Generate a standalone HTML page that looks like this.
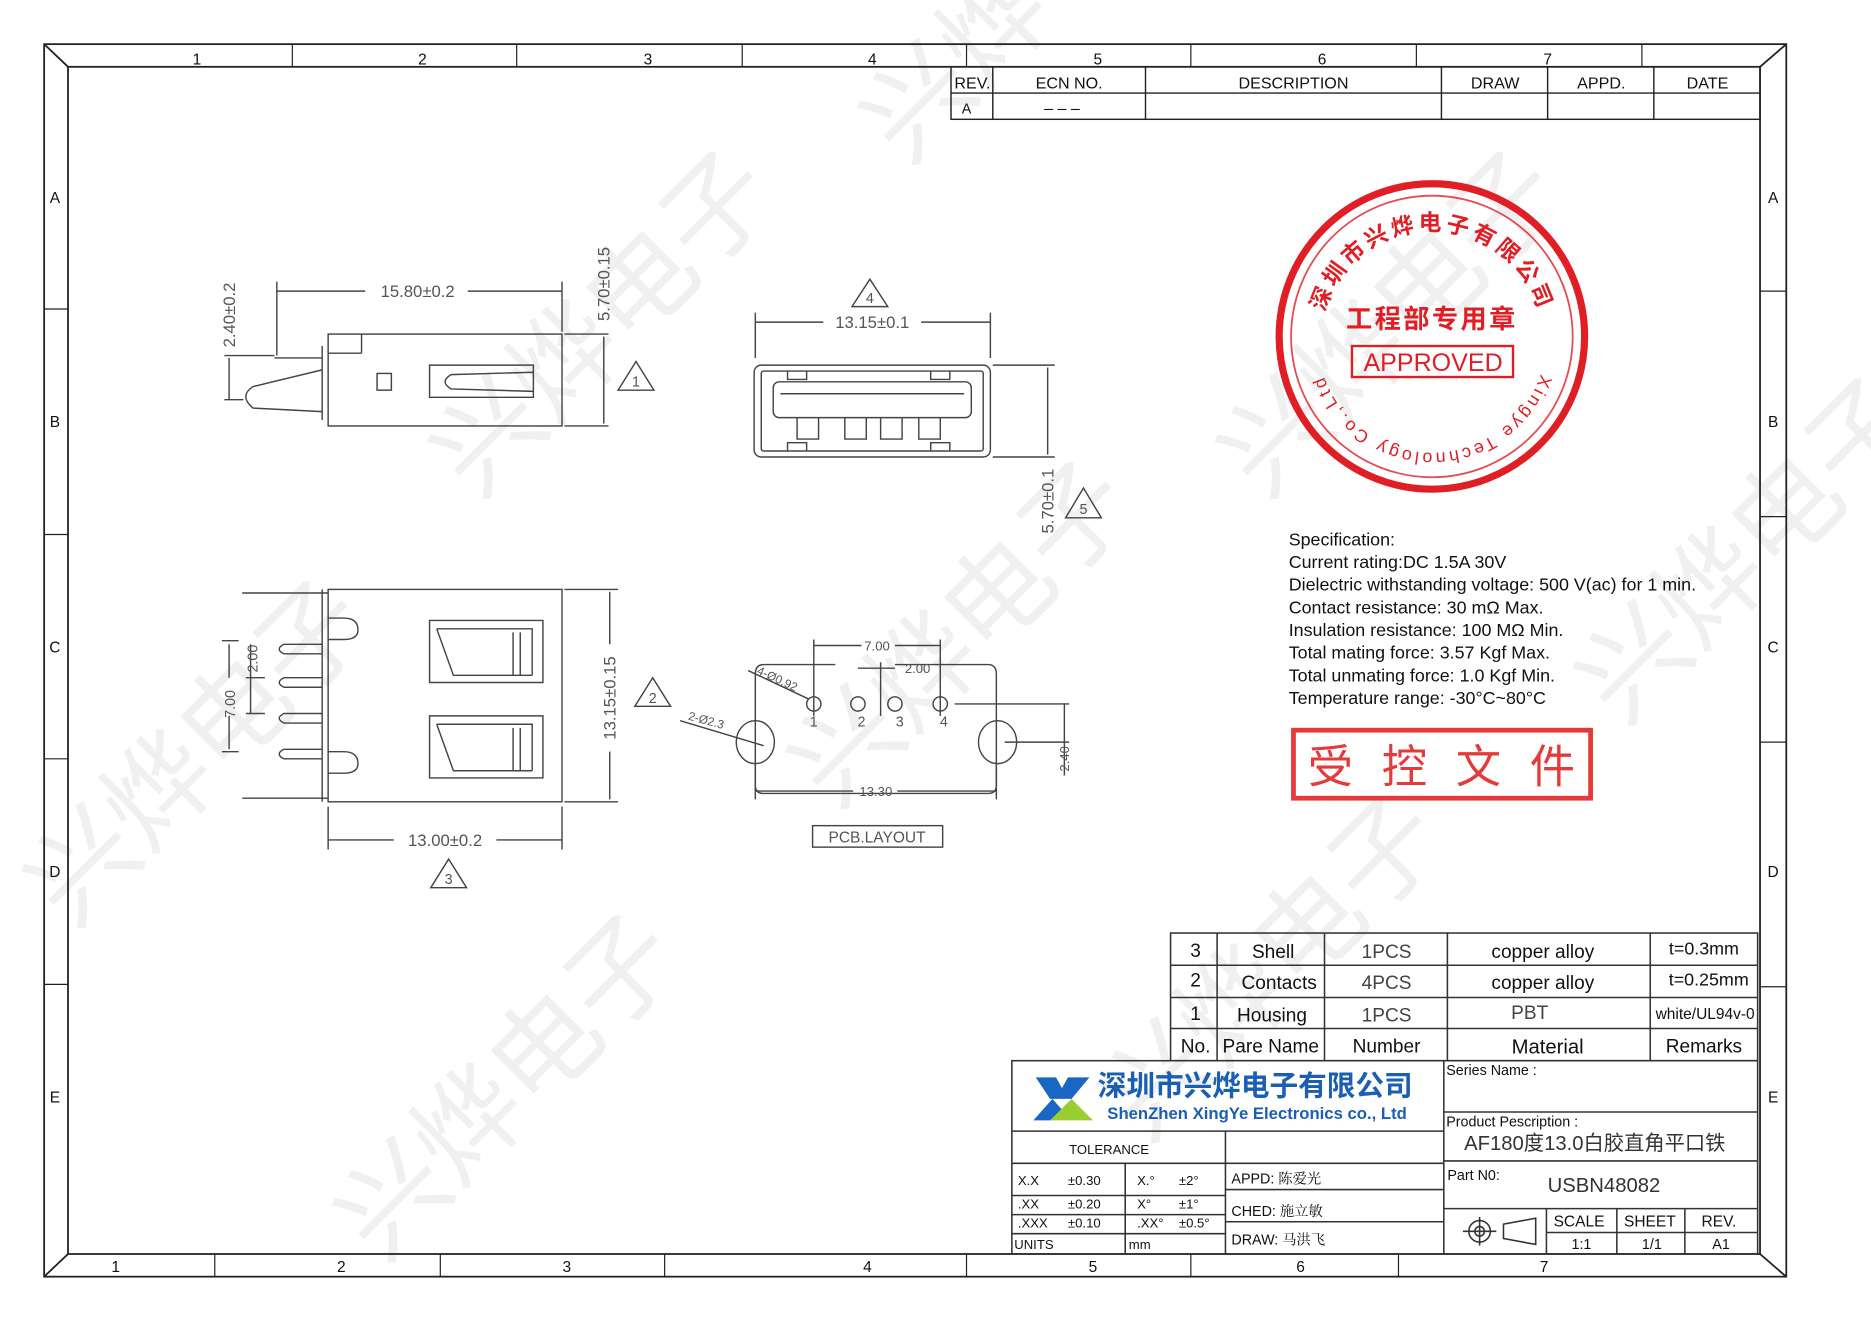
<!DOCTYPE html>
<html><head><meta charset="utf-8"><style>
html,body{margin:0;padding:0;background:#fff;width:1871px;height:1322px;overflow:hidden}
svg{display:block;overflow:hidden}
text{font-family:"Liberation Sans","Noto Sans CJK SC",sans-serif}
</style></head><body>
<svg width="1871" height="1322" viewBox="0 0 1568 1108" preserveAspectRatio="none" xmlns="http://www.w3.org/2000/svg">
<rect width="1568" height="1108" fill="#fff"/>
<!-- watermarks -->
<g fill="#f0f0f0" font-size="90" font-family="Noto Sans CJK SC,sans-serif">
<text transform="translate(400,420) rotate(-45)">兴烨电子</text>
<text transform="translate(60,780) rotate(-45)">兴烨电子</text>
<text transform="translate(700,680) rotate(-45)">兴烨电子</text>
<text transform="translate(1060,420) rotate(-45)">兴烨电子</text>
<text transform="translate(320,1060) rotate(-45)">兴烨电子</text>
<text transform="translate(960,960) rotate(-45)">兴烨电子</text>
<text transform="translate(1360,610) rotate(-45)">兴烨电子</text>
<text transform="translate(760,140) rotate(-45)">兴烨电子</text>
</g>
<!-- frame -->
<g stroke="#222" fill="none" stroke-width="1.5">
<rect x="37" y="37" width="1460" height="1033"/>
<rect x="57" y="56" width="1418" height="995"/>
<line x1="37" y1="37" x2="57" y2="56"/><line x1="1497" y1="37" x2="1475" y2="56"/>
<line x1="37" y1="1070" x2="57" y2="1051"/><line x1="1497" y1="1070" x2="1475" y2="1051"/>
</g>
<g stroke="#222" stroke-width="1">
<line x1="245" y1="37" x2="245" y2="56"/><line x1="433" y1="37" x2="433" y2="56"/><line x1="622" y1="37" x2="622" y2="56"/><line x1="810" y1="37" x2="810" y2="56"/><line x1="998" y1="37" x2="998" y2="56"/><line x1="1187" y1="37" x2="1187" y2="56"/><line x1="1376" y1="37" x2="1376" y2="56"/>
<line x1="180" y1="1051" x2="180" y2="1070"/><line x1="369" y1="1051" x2="369" y2="1070"/><line x1="557" y1="1051" x2="557" y2="1070"/><line x1="810" y1="1051" x2="810" y2="1070"/><line x1="998" y1="1051" x2="998" y2="1070"/><line x1="1172" y1="1051" x2="1172" y2="1070"/>
<line x1="37" y1="259" x2="57" y2="259"/><line x1="37" y1="448" x2="57" y2="448"/><line x1="37" y1="636" x2="57" y2="636"/><line x1="37" y1="825" x2="57" y2="825"/>
<line x1="1475" y1="244" x2="1497" y2="244"/><line x1="1475" y1="433" x2="1497" y2="433"/><line x1="1475" y1="622" x2="1497" y2="622"/><line x1="1475" y1="827" x2="1497" y2="827"/>
</g>
<g font-size="13" fill="#111" text-anchor="middle">
<text x="165" y="54">1</text><text x="354" y="54">2</text><text x="543" y="54">3</text><text x="731" y="54">4</text><text x="920" y="54">5</text><text x="1108" y="54">6</text><text x="1297" y="54">7</text>
<text x="97" y="1066">1</text><text x="286" y="1066">2</text><text x="475" y="1066">3</text><text x="727" y="1066">4</text><text x="916" y="1066">5</text><text x="1090" y="1066">6</text><text x="1294" y="1066">7</text>
<text x="46" y="170">A</text><text x="46" y="358">B</text><text x="46" y="547">C</text><text x="46" y="735">D</text><text x="46" y="924">E</text>
<text x="1486" y="170">A</text><text x="1486" y="358">B</text><text x="1486" y="547">C</text><text x="1486" y="735">D</text><text x="1486" y="924">E</text>
</g>
<!-- revision table -->
<g stroke="#222" stroke-width="1.2" fill="none">
<rect x="797" y="56" width="678" height="44"/>
<line x1="797" y1="78" x2="1475" y2="78"/>
<line x1="832" y1="56" x2="832" y2="100"/><line x1="960" y1="56" x2="960" y2="100"/><line x1="1208" y1="56" x2="1208" y2="100"/><line x1="1297" y1="56" x2="1297" y2="100"/><line x1="1386" y1="56" x2="1386" y2="100"/>
</g>
<g font-size="13.5" fill="#111" text-anchor="middle">
<text x="815" y="74">REV.</text><text x="896" y="74">ECN  NO.</text><text x="1084" y="74">DESCRIPTION</text><text x="1253" y="74">DRAW</text><text x="1342" y="74">APPD.</text><text x="1431" y="74">DATE</text>
<text x="810" y="95" font-size="12">A</text><text x="890" y="95">– – –</text>
</g>
<!-- stamp -->
<g stroke="#e01e25" fill="none">
<circle cx="1200" cy="282" r="128" stroke-width="6"/>
<circle cx="1200" cy="282" r="118" stroke-width="1.5" opacity="0.8"/>
<rect x="1133" y="290" width="135" height="26" stroke-width="2"/>
</g>
<defs>
<path id="arcTop" d="M1108,300 A93,93 0 1,1 1292,300"/>
<path id="arcBot" d="M1290,250 A96,96 0 1,1 1110,250"/>
</defs>
<g fill="#e01e25">
<text font-size="19" font-weight="bold" font-family="Noto Sans CJK SC,sans-serif"><textPath href="#arcTop" startOffset="50%" text-anchor="middle" letter-spacing="3">深圳市兴烨电子有限公司</textPath></text>
<text font-size="15" font-family="Liberation Serif,serif"><textPath href="#arcBot" startOffset="50%" text-anchor="middle" letter-spacing="2.5">Xingye Technology Co.,Ltd</textPath></text>
<text x="1200" y="275" font-size="22" text-anchor="middle" font-weight="bold" font-family="Noto Sans CJK SC,sans-serif" letter-spacing="2">工程部专用章</text>
<text x="1201" y="311" font-size="21" text-anchor="middle">APPROVED</text>
</g>
<!-- spec -->
<g font-size="15" fill="#111">
<text x="1080" y="457">Specification:</text>
<text x="1080" y="476">Current rating:DC 1.5A 30V</text>
<text x="1080" y="495">Dielectric withstanding voltage: 500 V(ac) for 1 min.</text>
<text x="1080" y="514">Contact resistance: 30 mΩ Max.</text>
<text x="1080" y="533">Insulation resistance: 100 MΩ Min.</text>
<text x="1080" y="552">Total mating force: 3.57 Kgf Max.</text>
<text x="1080" y="571">Total unmating force: 1.0 Kgf Min.</text>
<text x="1080" y="590">Temperature range: -30°C~80°C</text>
</g>
<rect x="1084" y="612" width="249" height="57" fill="none" stroke="#e43a3a" stroke-width="4"/>
<text x="1096" y="656" fill="#e43a3a" font-size="38" letter-spacing="24" font-family="Noto Sans CJK SC,sans-serif">受控文件</text>
<!-- drawings -->
<g stroke="#444" stroke-width="1.2" fill="none">
<rect x="275" y="280" width="196" height="77"/>
<line x1="275" y1="296" x2="303" y2="296"/><line x1="303" y1="280" x2="303" y2="296"/>
<line x1="270" y1="290" x2="270" y2="352"/>
<path d="M230,300 H270 M270,310 L212,324 Q200,332 212,342 L270,345"/>
<rect x="316" y="313" width="12" height="14"/>
<path d="M360,306 H447 V333 H360 Z M447,312 L378,314 Q368,320 378,326 L447,328"/>
<path d="M232,244 H306 M392,244 H471 M232,236 V298 M471,236 V278"/>
<path d="M188,298 H230 M188,335 H204 M192,300 V335"/>
<path d="M473,280 H510 M473,357 H510 M506,282 V355"/>
<polygon points="533,303 518,327 548,327"/>
<rect x="632" y="306" width="198" height="77" rx="6"/>
<rect x="638" y="311" width="186" height="67" rx="2"/>
<rect x="648" y="320" width="166" height="30" rx="5"/>
<line x1="654" y1="330" x2="808" y2="330"/>
<path d="M668,350 V368 H686 V350 M708,350 V368 H726 V350 M738,350 V368 H756 V350 M770,350 V368 H788 V350"/>
<path d="M660,311 V318 H676 V311 M780,311 V318 H796 V311 M660,378 V371 H676 V378 M780,378 V371 H796 V378"/>
<path d="M633,270 H690 M772,270 H830 M633,262 V300 M830,262 V300"/>
<path d="M832,306 H884 M832,383 H884 M878,308 V381"/>
<polygon points="729,234 714,257 744,257"/>
<polygon points="908,409 893,434 923,434"/>
<rect x="275" y="494" width="196" height="178"/>
<line x1="270" y1="494" x2="270" y2="672"/>
<path d="M203,497 H275 M203,669 H275"/>
<path d="M275,518 H288 Q300,518 300,528 Q300,536 288,536 H275 M275,630 H288 Q300,630 300,640 Q300,648 288,648 H275"/>
<path d="M270,540 H238 Q230,544 238,548 H270 M270,568 H238 Q230,572 238,576 H270 M270,598 H238 Q230,602 238,606 H270 M270,628 H238 Q230,632 238,636 H270"/>
<path d="M360,520 H455 V572 H360 Z M366,527 L380,566 H446 M366,527 H446 V566 M430,530 V566 M436,530 V566"/>
<path d="M360,600 H455 V652 H360 Z M366,607 L380,646 H446 M366,607 H446 V646 M430,610 V646 M436,610 V646"/>
<path d="M275,704 H330 M416,704 H471 M275,676 V712 M471,676 V712"/>
<path d="M473,494 H518 M473,672 H518 M511,496 V540 M511,630 V670"/>
<path d="M186,537 H200 M186,630 H200 M192,540 V568 M192,600 V628 M206,568 H222 M206,598 H222 M210,540 V598"/>
<polygon points="376,720 361,744 391,744"/>
<polygon points="547,568 532,592 562,592"/>
<path d="M640,557 H700 M750,557 H828 Q835,557 835,565 V658 Q835,665 828,665 H640 Q633,665 633,658 V565 Q633,557 640,557"/>
<circle cx="682" cy="590" r="6"/><circle cx="719" cy="590" r="6"/><circle cx="750" cy="590" r="6"/><circle cx="788" cy="590" r="6"/>
<ellipse cx="633" cy="622" rx="16" ry="18"/><ellipse cx="836" cy="622" rx="16" ry="18"/>
<path d="M682,541 H722 M750,541 H788 M682,536 V600 M788,536 V600 M719,560 H750 M738,555 V600 M800,590 H896 M842,622 H896 M892,590 V650"/>
<path d="M633,663 H715 M752,663 H835 M633,640 V670 M835,640 V670"/>
<path d="M627,562 L678,586 M570,604 L640,625"/>
<rect x="681" y="692" width="109" height="18"/>
</g>
<g fill="#555" font-size="14" text-anchor="middle">
<text x="350" y="249">15.80±0.2</text>
<text x="373" y="709">13.00±0.2</text>
<text x="731" y="275">13.15±0.1</text>
<text transform="translate(197,264) rotate(-90)">2.40±0.2</text>
<text transform="translate(511,238) rotate(-90)">5.70±0.15</text>
<text transform="translate(516,585) rotate(-90)">13.15±0.15</text>
<text transform="translate(883,420) rotate(-90)">5.70±0.1</text>
<text transform="translate(197,590) rotate(-90)" font-size="12">7.00</text>
<text transform="translate(216,552) rotate(-90)" font-size="12">2.00</text>
<text transform="translate(896,636) rotate(-90)" font-size="11">2.40</text>
<text x="735" y="545" font-size="11">7.00</text>
<text x="769" y="564" font-size="11">2.00</text>
<text x="734" y="667" font-size="11">13.30</text>
<text x="682" y="609" font-size="12">1</text><text x="722" y="609" font-size="12">2</text><text x="754" y="609" font-size="12">3</text><text x="791" y="609" font-size="12">4</text>
<text transform="translate(650,572) rotate(25)" font-size="10">4-Ø0.92</text>
<text transform="translate(591,607) rotate(15)" font-size="10">2-Ø2.3</text>
<text x="735" y="706" font-size="13">PCB.LAYOUT</text>
<text x="533" y="324" font-size="12" font-family="Liberation Serif,serif">1</text>
<text x="729" y="254" font-size="12" font-family="Liberation Serif,serif">4</text>
<text x="908" y="431" font-size="12" font-family="Liberation Serif,serif">5</text>
<text x="376" y="741" font-size="12" font-family="Liberation Serif,serif">3</text>
<text x="547" y="589" font-size="12" font-family="Liberation Serif,serif">2</text>
</g>
<!-- BOM -->
<g stroke="#333" stroke-width="1.3" fill="none">
<rect x="981" y="782" width="492" height="107"/>
<line x1="981" y1="809" x2="1473" y2="809"/><line x1="981" y1="836" x2="1473" y2="836"/><line x1="981" y1="862" x2="1473" y2="862"/>
<line x1="1020" y1="782" x2="1020" y2="889"/><line x1="1110" y1="782" x2="1110" y2="889"/><line x1="1213" y1="782" x2="1213" y2="889"/><line x1="1383" y1="782" x2="1383" y2="889"/>
</g>
<g font-size="16" fill="#111" text-anchor="middle">
<text x="1002" y="802">3</text><text x="1067" y="803">Shell</text><text x="1162" y="803" fill="#444">1PCS</text><text x="1293" y="803">copper alloy</text><text x="1428" y="800" font-size="15">t=0.3mm</text>
<text x="1002" y="827">2</text><text x="1072" y="829">Contacts</text><text x="1162" y="829" fill="#444">4PCS</text><text x="1293" y="829">copper alloy</text><text x="1432" y="826" font-size="15">t=0.25mm</text>
<text x="1002" y="855">1</text><text x="1066" y="856">Housing</text><text x="1162" y="856" fill="#444">1PCS</text><text x="1282" y="854" fill="#444" font-family="Liberation Serif,serif">PBT</text><text x="1429" y="854" font-size="13">white/UL94v-0</text>
<text x="1002" y="882">No.</text><text x="1065" y="882">Pare Name</text><text x="1162" y="882">Number</text><text x="1297" y="883" font-size="17">Material</text><text x="1428" y="882">Remarks</text>
</g>
<!-- title block -->
<g stroke="#333" stroke-width="1.3" fill="none">
<rect x="848" y="889" width="625" height="162"/>
<line x1="1210" y1="889" x2="1210" y2="1051"/>
<line x1="848" y1="948" x2="1210" y2="948"/><line x1="848" y1="975" x2="1210" y2="975"/>
<line x1="1027" y1="948" x2="1027" y2="1051"/>
<line x1="848" y1="1002" x2="1027" y2="1002"/><line x1="848" y1="1018" x2="1027" y2="1018"/><line x1="848" y1="1034" x2="1027" y2="1034"/>
<line x1="943" y1="975" x2="943" y2="1051"/>
<line x1="1027" y1="997" x2="1210" y2="997"/><line x1="1027" y1="1024" x2="1210" y2="1024"/>
<line x1="1210" y1="932" x2="1473" y2="932"/><line x1="1210" y1="973" x2="1473" y2="973"/><line x1="1210" y1="1013" x2="1473" y2="1013"/>
<line x1="1296" y1="1013" x2="1296" y2="1051"/><line x1="1355" y1="1013" x2="1355" y2="1051"/><line x1="1412" y1="1013" x2="1412" y2="1051"/>
<line x1="1296" y1="1033" x2="1473" y2="1033"/>
<circle cx="1240" cy="1032" r="9"/><circle cx="1240" cy="1032" r="4"/>
<path d="M1226,1032 H1254 M1240,1020 V1044 M1260,1026 L1287,1021 V1043 L1260,1038 Z"/>
</g>
<polygon points="868,903 885,903 890,912 895,903 913,903 898,921 880,921" fill="#1a66c4"/>
<polygon points="866,939 882,921 890,930 880,939" fill="#1a66c4"/>
<polygon points="880,939 898,921 916,939" fill="#9acd32"/>
<text x="920" y="918" font-size="24" fill="#1a5fb4" font-weight="bold" font-family="Noto Sans CJK SC,sans-serif">深圳市兴烨电子有限公司</text>
<text x="928" y="938" font-size="14" fill="#1a5fb4" font-weight="bold" font-family="Liberation Mono,monospace">ShenZhen XingYe Electronics co., Ltd</text>
<g font-size="11" fill="#111">
<text x="896" y="967">TOLERANCE</text>
<text x="853" y="993">X.X</text><text x="895" y="993">±0.30</text><text x="953" y="993">X.°</text><text x="988" y="993">±2°</text>
<text x="853" y="1013">.XX</text><text x="895" y="1013">±0.20</text><text x="953" y="1013">X°</text><text x="988" y="1013">±1°</text>
<text x="853" y="1029">.XXX</text><text x="895" y="1029">±0.10</text><text x="953" y="1029">.XX°</text><text x="988" y="1029">±0.5°</text>
<text x="850" y="1047">UNITS</text><text x="946" y="1047">mm</text>
<text x="1032" y="992" font-size="12">APPD:  <tspan font-family="Noto Serif CJK SC,serif">陈爱光</tspan></text>
<text x="1032" y="1019" font-size="12">CHED:  <tspan font-family="Noto Serif CJK SC,serif">施立敏</tspan></text>
<text x="1032" y="1043" font-size="12">DRAW:  <tspan font-family="Noto Serif CJK SC,serif">马洪飞</tspan></text>
<text x="1212" y="901" font-size="12">Series Name :</text>
<text x="1212" y="944" font-size="12">Product Pescription :</text>
<text x="1213" y="989" font-size="12">Part N0:</text>
<text x="1227" y="964" font-size="17" fill="#333" font-family="Liberation Serif,Noto Serif CJK SC,serif">AF180度13.0白胶直角平口铁</text>
<text x="1297" y="999" font-size="17" fill="#333" font-family="Liberation Serif,serif">USBN48082</text>
<text x="1302" y="1028" font-size="13">SCALE</text><text x="1361" y="1028" font-size="13">SHEET</text><text x="1426" y="1028" font-size="13">REV.</text>
<text x="1317" y="1047" font-size="12">1:1</text><text x="1376" y="1047" font-size="12">1/1</text><text x="1435" y="1047" font-size="12">A1</text>
</g>
</svg>
</body></html>
